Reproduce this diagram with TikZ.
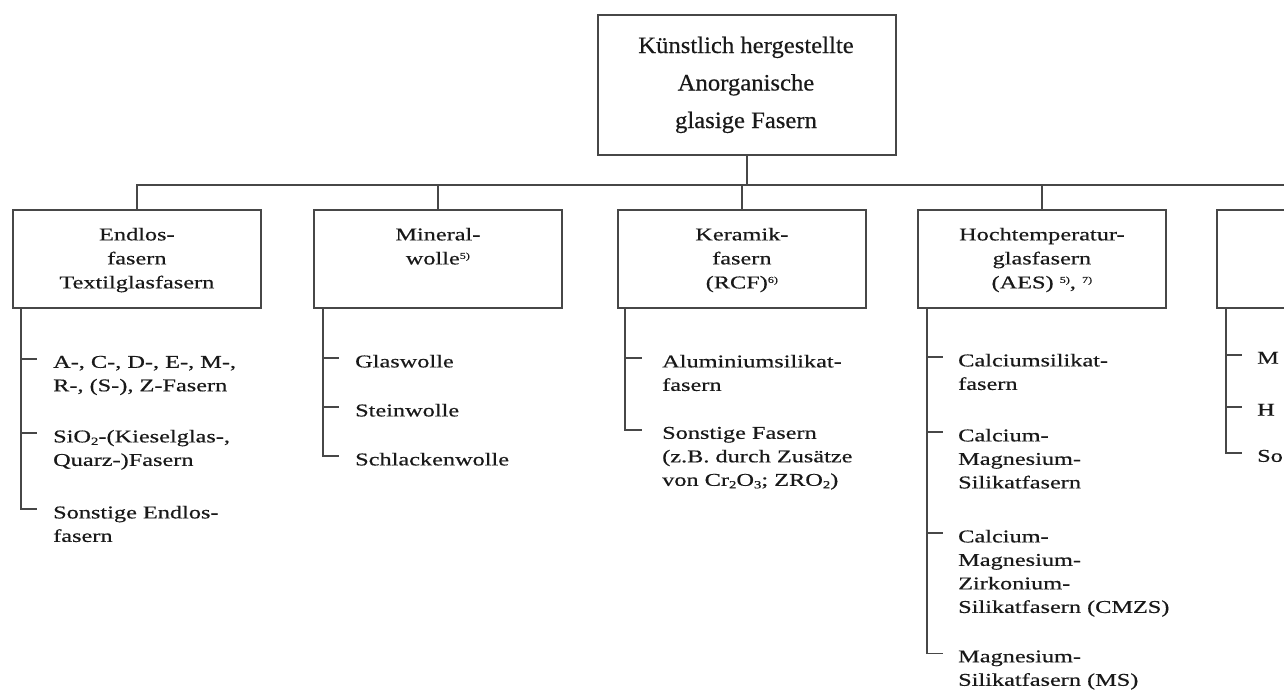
\documentclass[tikz,border=0pt]{standalone}
\usepackage{fontspec}
\setmainfont{Liberation Serif}
\newfontfamily\boxfont[FakeStretch=1.35,FakeBold=0.5]{Liberation Serif}
\newfontfamily\headfont[FakeStretch=1.05,FakeBold=0.5]{Liberation Serif}
\usetikzlibrary{calc}
\newcommand\fnsup[1]{\raisebox{5.5pt}{\fontsize{9}{9}\selectfont #1}}
\newcommand\fnsub[1]{\raisebox{-2.5pt}{\fontsize{11}{11}\selectfont #1}}
\tikzset{
  ln/.style={line width=1.7pt, draw=black!72},
  hbox/.style={ln, rectangle, minimum width=298pt, minimum height=140pt, inner sep=0pt, anchor=north west},
  cbox/.style={ln, rectangle, minimum width=248pt, minimum height=98pt, inner sep=0pt, anchor=north west},
  htext/.style={font=\headfont\fontsize{23.5}{37.5}\selectfont, align=center, anchor=north, inner sep=0pt, text=black!90},
  btext/.style={font=\boxfont\fontsize{18}{24}\selectfont, align=center, anchor=north, inner sep=0pt, text=black!90},
  itext/.style={font=\boxfont\fontsize{18}{23.5}\selectfont, align=left, anchor=north west, inner sep=0pt, text=black!90},
}
\begin{document}
\begin{tikzpicture}[x=1pt,y=-1pt]
\useasboundingbox (0,0) rectangle (1284,690);
\clip (0,0) rectangle (1284,690);

% top box
\node[hbox] (top) at (597,14) {};
\node[htext] (topt) at (746,36.5) {Künstlich hergestellte\\Anorganische\\glasige Fasern};

% category boxes
\node[cbox] (b1) at (12,209) {};
\node[cbox] (b2) at (313,209) {};
\node[cbox] (b3) at (617,209) {};
\node[cbox] (b4) at (917,209) {};
\node[cbox] (b5) at (1216,209) {};

\node[btext] (b1t) at ($(b1.north)+(0,18.7)$) {Endlos-\\fasern\\Textilglasfasern};
\node[btext] (b2t) at ($(b2.north)+(0,18.7)$) {Mineral-\\wolle\fnsup{5)}};
\node[btext] (b3t) at ($(b3.north)+(0,18.7)$) {Keramik-\\fasern\\(RCF)\fnsup{6)}};
\node[btext] (b4t) at ($(b4.north)+(0,18.7)$) {Hochtemperatur-\\glasfasern\\(AES) \fnsup{5)}, \fnsup{7)}};

% bus
\coordinate (bus) at (0,185);
\coordinate (busend) at (1295,185);
\draw[ln] (top.south) -- (top.south |- bus);
\draw[ln] (b1.north) |- (busend);
\draw[ln] (b2.north) -- (b2.north |- bus);
\draw[ln] (b3.north) -- (b3.north |- bus);
\draw[ln] (b4.north) -- (b4.north |- bus);

% trunks
\coordinate (t1) at ($(b1.south west)+(9,0)$);
\coordinate (t2) at ($(b2.south west)+(10,0)$);
\coordinate (t3) at ($(b3.south west)+(8,0)$);
\coordinate (t4) at ($(b4.south west)+(10,0)$);
\coordinate (t5) at ($(b5.south west)+(10,0)$);

% items box 1
\node[itext] (a1) at (53,355.7) {A-, C-, D-, E-, M-,\\R-, (S-), Z-Fasern};
\node[itext] (a2) at (53,429.7) {SiO\fnsub{2}-(Kieselglas-,\\Quarz-)Fasern};
\node[itext] (a3) at (53,505.7) {Sonstige Endlos-\\fasern};
\draw[ln] (a1.north west -| t1) ++(0,3.3) -- ++(16,0);
\draw[ln] (a2.north west -| t1) ++(0,3.3) -- ++(16,0);
\draw[ln] (t1) |- ($(a3.north west -| t1)+(16,3.3)$);

% items box 2
\node[itext] (m1) at (355,354.7) {Glaswolle};
\node[itext] (m2) at (355,403.7) {Steinwolle};
\node[itext] (m3) at (355,452.7) {Schlackenwolle};
\draw[ln] (m1.north west -| t2) ++(0,3.3) -- ++(16,0);
\draw[ln] (m2.north west -| t2) ++(0,3.3) -- ++(16,0);
\draw[ln] (t2) |- ($(m3.north west -| t2)+(16,3.3)$);

% items box 3
\node[itext] (k1) at (662,354.7) {Aluminiumsilikat-\\fasern};
\node[itext] (k2) at (662,426.7) {Sonstige Fasern\\(z.B. durch Zusätze\\von Cr\fnsub{2}O\fnsub{3}; ZRO\fnsub{2})};
\draw[ln] (k1.north west -| t3) ++(0,3.3) -- ++(17,0);
\draw[ln] (t3) |- ($(k2.north west -| t3)+(17,3.3)$);

% items box 4
\node[itext] (h1) at (958,353.7) {Calciumsilikat-\\fasern};
\node[itext] (h2) at (958,428.7) {Calcium-\\Magnesium-\\Silikatfasern};
\node[itext] (h3) at (958,529.7) {Calcium-\\Magnesium-\\Zirkonium-\\Silikatfasern (CMZS)};
\node[itext] (h4) at (958,650.2) {Magnesium-\\Silikatfasern (MS)};
\draw[ln] (h1.north west -| t4) ++(0,3.3) -- ++(16,0);
\draw[ln] (h2.north west -| t4) ++(0,3.3) -- ++(16,0);
\draw[ln] (h3.north west -| t4) ++(0,3.3) -- ++(16,0);
\draw[ln] (t4) |- ($(h4.north west -| t4)+(16,3.3)$);

% items box 5 (cut off at the edge)
\node[itext] (s1) at (1257,351.7) {M};
\node[itext] (s2) at (1257,403.7) {H};
\node[itext] (s3) at (1257,449.7) {So};
\draw[ln] (s1.north west -| t5) ++(0,3.3) -- ++(16,0);
\draw[ln] (s2.north west -| t5) ++(0,3.3) -- ++(16,0);
\draw[ln] (t5) |- ($(s3.north west -| t5)+(16,3.3)$);
\end{tikzpicture}
\end{document}
